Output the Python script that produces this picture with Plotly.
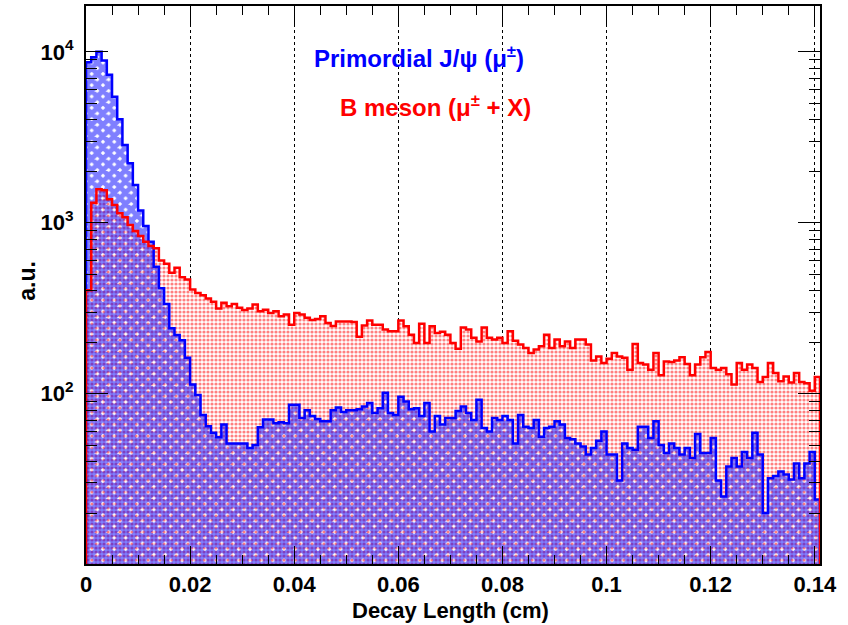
import numpy as np
import plotly.graph_objects as go

# ---------------- data ----------------
bin_width = 0.001          # cm
x_max = 0.141              # cm, right end of the histogram range

red_counts = [403, 1310, 1570, 1550, 1370, 1270, 1134, 1075, 970, 894,
              835, 774, 730, 708, 600, 575, 510, 545, 480, 466,
              407, 388, 376, 360, 345, 315, 340, 325, 335, 318,
              308, 315, 332, 303, 310, 296, 303, 284, 290, 253,
              296, 290, 278, 270, 273, 284, 259, 249, 264, 264,
              264, 262, 215, 250, 268, 253, 253, 237, 232, 232,
              268, 248, 221, 198, 256, 198, 248, 226, 230, 221,
              198, 183, 244, 237, 212, 202, 244, 212, 207, 212,
              198, 232, 204, 194, 185, 173, 181, 189, 221, 185,
              207, 189, 202, 185, 207, 207, 194, 156, 165, 151,
              160, 173, 165, 162, 138, 195, 151, 148, 138, 173,
              128, 154, 153, 156, 163, 149, 128, 148, 163, 175,
              141, 138, 141, 130, 113, 151, 138, 148, 141, 117,
              125, 151, 132, 118, 126, 116, 132, 117, 115, 104,
              125]

blue_counts = [8700, 9300, 10000, 8890, 7330, 5460, 4030, 2850, 2226, 1660,
               1180, 955, 774, 552, 414, 334, 241, 220, 205, 162,
               113, 98, 75, 64.5, 59, 55.5, 66, 51, 51, 51,
               51, 48, 50, 63.5, 70.5, 70.5, 67, 68, 67, 86,
               86, 72, 80, 74, 71, 69, 69, 80, 83, 78,
               80, 80, 81, 84, 88, 77, 82, 101, 77, 75,
               96, 90, 81, 82, 74, 88, 60, 74, 66, 72,
               72, 79, 84, 77, 70, 92, 63, 60, 72, 70,
               74, 70, 51, 75, 64, 63, 70, 56, 63, 64,
               69, 66, 55, 54, 51, 49, 44, 48, 53, 60,
               44, 44, 31, 51, 48, 47, 64, 64, 55, 69,
               50, 45, 51, 48, 44, 48, 42, 58, 45, 45,
               55, 31, 25, 37.5, 42, 37.5, 45.5, 42, 59, 44,
               20, 32, 33, 35, 33.6, 31.4, 39, 32, 39, 45.5,
               24]

x_tick_vals = [0, 0.02, 0.04, 0.06, 0.08, 0.10, 0.12, 0.14]
x_tick_text = ["0", "0.02", "0.04", "0.06", "0.08", "0.1", "0.12", "0.14"]
y_tick_vals = [100, 1000, 10000]
y_tick_text = ["10<sup>2</sup>", "10<sup>3</sup>", "10<sup>4</sup>"]

label_blue = "Primordial J/ψ (μ<sup>±</sup>)"
label_red = "B meson (μ<sup>±</sup> + X)"
x_title = "Decay Length (cm)"
y_title = "a.u."

# ---------------- helpers ----------------
FONT = "Liberation Sans, Arial, Helvetica, sans-serif"
edges = np.arange(len(red_counts) + 1) * bin_width
floor_val = 1.0  # below the visible log range -> fill reaches the frame


def step_path(counts):
    xs = [edges[0]] + list(edges[:-1]) + [edges[-1], edges[-1]]
    ys = [floor_val] + list(counts) + [counts[-1], floor_val]
    return xs, ys


rx, ry = step_path(red_counts)
bx, by = step_path(blue_counts)

fig = go.Figure()

# red fill (dotted pattern)
fig.add_trace(go.Scatter(
    x=rx, y=ry, mode="lines", line=dict(width=0, shape="hv", color="red"),
    fill="toself", fillcolor="rgba(0,0,0,0)",
    fillpattern=dict(shape=".", fgcolor="red", bgcolor="white",
                     size=4, solidity=0.5),
    hoverinfo="skip", showlegend=False))

# blue fill (cross hatch, transparent gaps)
fig.add_trace(go.Scatter(
    x=bx, y=by, mode="lines", line=dict(width=0, shape="hv", color="blue"),
    fill="toself", fillcolor="rgba(0,0,0,0)",
    fillpattern=dict(shape="x", fgcolor="blue", bgcolor="rgba(0,0,0,0)",
                     size=8, solidity=0.85),
    hoverinfo="skip", showlegend=False))

# outlines
fig.add_trace(go.Scatter(x=bx, y=by, mode="lines",
                         line=dict(width=2.5, shape="hv", color="blue"),
                         hoverinfo="skip", showlegend=False))
fig.add_trace(go.Scatter(x=rx, y=ry, mode="lines",
                         line=dict(width=2.5, shape="hv", color="red"),
                         hoverinfo="skip", showlegend=False))

x_minor = list(np.round(np.arange(0, x_max + 1e-9, 0.005), 4))
y_minor = [k * 10 ** n for n in range(1, 5) for k in range(2, 10)]

fig.update_xaxes(
    range=[0, x_max], tickmode="array", tickvals=x_tick_vals, ticktext=x_tick_text,
    ticks="inside", ticklen=18, tickwidth=1.2, tickcolor="black",
    showline=True, linecolor="black", linewidth=2, mirror="allticks",
    showgrid=True, gridcolor="black", griddash="dot", gridwidth=1,
    zeroline=False, ticklabelstandoff=0,
    tickfont=dict(family=FONT, size=22, color="black", weight="bold"),
    minor=dict(tickmode="array", tickvals=x_minor, ticks="inside", ticklen=9,
               tickwidth=1.2, tickcolor="black", showgrid=False),
)
fig.update_yaxes(
    type="log", range=[1.003, 4.268], tickmode="array",
    tickvals=y_tick_vals, ticktext=y_tick_text,
    ticks="inside", ticklen=22, tickwidth=1.2, tickcolor="black",
    showline=True, linecolor="black", linewidth=2, mirror="allticks",
    showgrid=False, zeroline=False, ticklabelstandoff=6,
    tickfont=dict(family=FONT, size=22, color="black", weight="bold"),
    minor=dict(tickmode="array", tickvals=y_minor, ticks="inside", ticklen=11,
               tickwidth=1.2, tickcolor="black", showgrid=False),
)

fig.add_annotation(text=label_blue, xref="paper", yref="paper", x=0.453, y=0.9086,
                   showarrow=False, xanchor="center", yanchor="middle",
                   font=dict(family=FONT, size=24, color="blue", weight="bold"))
fig.add_annotation(text=label_red, xref="paper", yref="paper", x=0.476, y=0.8208,
                   showarrow=False, xanchor="center", yanchor="middle",
                   font=dict(family=FONT, size=24, color="red", weight="bold"))
fig.add_annotation(text=x_title, xref="paper", yref="paper", x=0.497, y=-0.083,
                   showarrow=False, xanchor="center", yanchor="middle",
                   font=dict(family=FONT, size=22, color="black", weight="bold"))
fig.add_annotation(text=y_title, xref="paper", yref="paper", x=-0.0796, y=0.507,
                   showarrow=False, xanchor="center", yanchor="middle", textangle=-90,
                   font=dict(family=FONT, size=23, color="black", weight="bold"))

fig.update_layout(
    width=848, height=625,
    margin=dict(l=86, r=28, t=6, b=61, autoexpand=False),
    paper_bgcolor="white", plot_bgcolor="white",
    showlegend=False,
)

fig.write_html("out.html", config={"displayModeBar": False},
               post_script="document.body.style.margin='0px';")
